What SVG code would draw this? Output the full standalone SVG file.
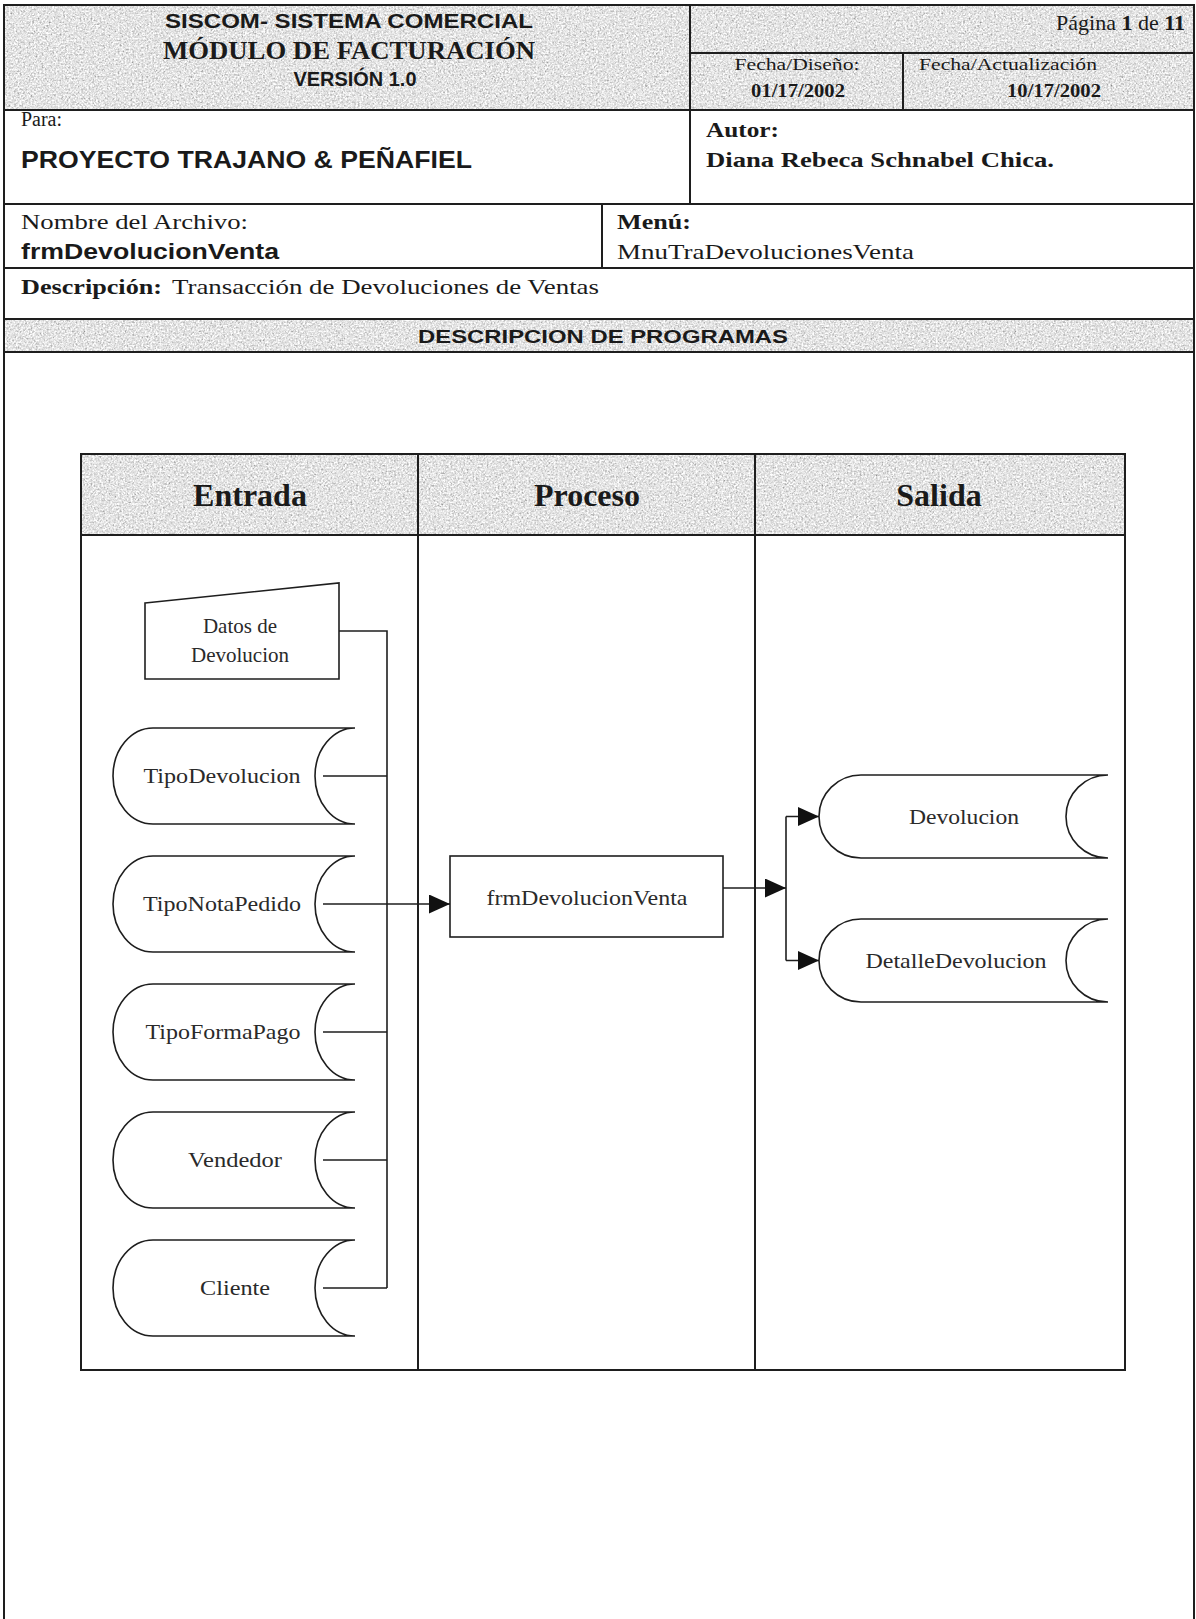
<svg xmlns="http://www.w3.org/2000/svg" width="1196" height="1619" viewBox="0 0 1196 1619">
<style>
.serif{font-family:"Liberation Serif","Times New Roman",serif;fill:#1a1a1a}
.sans{font-family:"Liberation Sans",Arial,sans-serif;fill:#1a1a1a;font-weight:bold}
.b{font-weight:bold}
.frame{stroke:#1e1e1e;stroke-width:2;fill:none}
.shape{stroke:#1e1e1e;stroke-width:1.6;fill:#fff}
.conn{stroke:#1e1e1e;stroke-width:1.6;fill:none}
.lbl{font-family:"Liberation Serif","Times New Roman",serif;fill:#2a2a2a;font-size:21px;text-anchor:middle}
.mid{text-anchor:middle}
</style>
<defs>
<filter id="grain" x="0" y="0" width="1" height="1" filterUnits="objectBoundingBox">
<feTurbulence type="fractalNoise" baseFrequency="0.55" numOctaves="3" seed="7"/>
<feColorMatrix type="matrix" values="0.33 0.33 0.33 0 0 0.33 0.33 0.33 0 0 0.33 0.33 0.33 0 0 0 0 0 0 1"/>
<feComponentTransfer>
<feFuncR type="linear" slope="1.8" intercept="-0.12"/>
<feFuncG type="linear" slope="1.8" intercept="-0.12"/>
<feFuncB type="linear" slope="1.8" intercept="-0.12"/>
</feComponentTransfer>
</filter>
<marker id="arr" markerUnits="userSpaceOnUse" markerWidth="21" markerHeight="19" refX="21" refY="9.5" orient="auto">
<path d="M0,0 L21,9.5 L0,19 Z" fill="#111"/>
</marker>
</defs>
<rect width="1196" height="1619" fill="#fff"/>

<g id="page-header">
<rect x="4" y="5" width="1190" height="105" fill="#ccc" filter="url(#grain)"/>
<rect x="4" y="319" width="1190" height="33" fill="#ccc" filter="url(#grain)"/>
<path class="frame" d="M4,1619 V5 H1194 V1619"/>
<path class="frame" d="M690,5 V204 M690,53 H1194 M903,53 V110 M4,110 H1194 M4,204 H1194 M602,204 V268 M4,268 H1194 M4,319 H1194 M4,352 H1194"/>
<text class="sans mid" x="349" y="28" font-size="21" textLength="368" lengthAdjust="spacingAndGlyphs">SISCOM- SISTEMA COMERCIAL</text>
<text class="serif b mid" x="349" y="59" font-size="25" textLength="372" lengthAdjust="spacingAndGlyphs">MÓDULO DE FACTURACIÓN</text>
<text class="sans mid" x="355" y="86" font-size="20" textLength="123" lengthAdjust="spacingAndGlyphs">VERSIÓN 1.0</text>
<text class="serif" x="1185" y="30" font-size="22" text-anchor="end">Página <tspan class="b">1</tspan> de <tspan class="b">11</tspan></text>
<text class="serif mid" x="797" y="70" font-size="17" textLength="125" lengthAdjust="spacingAndGlyphs">Fecha/Diseño:</text>
<text class="serif b mid" x="798" y="97" font-size="18" textLength="94" lengthAdjust="spacingAndGlyphs">01/17/2002</text>
<text class="serif" x="919" y="70" font-size="17" textLength="178" lengthAdjust="spacingAndGlyphs">Fecha/Actualización</text>
<text class="serif b" x="1007" y="97" font-size="18" textLength="94" lengthAdjust="spacingAndGlyphs">10/17/2002</text>
<text class="serif" x="21" y="126" font-size="20" textLength="41" lengthAdjust="spacingAndGlyphs">Para:</text>
<text class="sans" x="21" y="168" font-size="24" textLength="451" lengthAdjust="spacingAndGlyphs">PROYECTO TRAJANO &amp; PEÑAFIEL</text>
<text class="serif b" x="706" y="137" font-size="21" textLength="73" lengthAdjust="spacingAndGlyphs">Autor:</text>
<text class="serif b" x="706" y="167" font-size="21" textLength="348" lengthAdjust="spacingAndGlyphs">Diana Rebeca Schnabel Chica.</text>
<text class="serif" x="21" y="229" font-size="20" textLength="227" lengthAdjust="spacingAndGlyphs">Nombre del Archivo:</text>
<text class="sans" x="21" y="259" font-size="22" textLength="258" lengthAdjust="spacingAndGlyphs">frmDevolucionVenta</text>
<text class="serif b" x="617" y="229" font-size="21" textLength="74" lengthAdjust="spacingAndGlyphs">Menú:</text>
<text class="serif" x="617" y="259" font-size="21" textLength="297" lengthAdjust="spacingAndGlyphs">MnuTraDevolucionesVenta</text>
<text class="serif b" x="21" y="294" font-size="21" textLength="141" lengthAdjust="spacingAndGlyphs">Descripción:</text>
<text class="serif" x="172" y="294" font-size="21" textLength="427" lengthAdjust="spacingAndGlyphs">Transacción de Devoluciones de Ventas</text>
<text class="sans mid" x="603" y="343" font-size="19" textLength="370" lengthAdjust="spacingAndGlyphs">DESCRIPCION DE PROGRAMAS</text>
</g>

<g id="swimlanes">
<rect x="81" y="454" width="1044" height="81" fill="#ccc" filter="url(#grain)"/>
<rect class="frame" x="81" y="454" width="1044" height="916"/>
<path class="frame" d="M81,535 H1125 M418,454 V1370 M755,454 V1370"/>
<text class="serif b mid" x="250" y="506" font-size="32">Entrada</text>
<text class="serif b mid" x="587" y="506" font-size="32">Proceso</text>
<text class="serif b mid" x="939" y="506" font-size="32">Salida</text>
</g>

<g id="datos-devolucion">
<path class="shape" d="M145,603 L339,583 L339,679 L145,679 Z"/>
<text class="lbl" x="240" y="633">Datos de</text>
<text class="lbl" x="240" y="662">Devolucion</text>
</g>
<g id="tipo-devolucion">
<path class="shape" d="M355,728 L153,728 A40,48 0 0 0 153,824 L355,824 A40,48 0 0 1 355,728 Z"/>
<text class="lbl" x="222" y="783" textLength="157" lengthAdjust="spacingAndGlyphs">TipoDevolucion</text>
</g>
<g id="tipo-nota-pedido">
<path class="shape" d="M355,856 L153,856 A40,48 0 0 0 153,952 L355,952 A40,48 0 0 1 355,856 Z"/>
<text class="lbl" x="222" y="911" textLength="158" lengthAdjust="spacingAndGlyphs">TipoNotaPedido</text>
</g>
<g id="tipo-forma-pago">
<path class="shape" d="M355,984 L153,984 A40,48 0 0 0 153,1080 L355,1080 A40,48 0 0 1 355,984 Z"/>
<text class="lbl" x="223" y="1039" textLength="155" lengthAdjust="spacingAndGlyphs">TipoFormaPago</text>
</g>
<g id="vendedor">
<path class="shape" d="M355,1112 L153,1112 A40,48 0 0 0 153,1208 L355,1208 A40,48 0 0 1 355,1112 Z"/>
<text class="lbl" x="235" y="1167" textLength="94" lengthAdjust="spacingAndGlyphs">Vendedor</text>
</g>
<g id="cliente">
<path class="shape" d="M355,1240 L153,1240 A40,48 0 0 0 153,1336 L355,1336 A40,48 0 0 1 355,1240 Z"/>
<text class="lbl" x="235" y="1295" textLength="70" lengthAdjust="spacingAndGlyphs">Cliente</text>
</g>

<g id="frm-devolucion-venta">
<rect class="shape" x="450" y="856" width="273" height="81"/>
<text class="lbl" x="587" y="905" textLength="201" lengthAdjust="spacingAndGlyphs">frmDevolucionVenta</text>
</g>

<g id="devolucion">
<path class="shape" d="M1108,775 L861,775 A42,41.5 0 0 0 861,858 L1108,858 A42,41.5 0 0 1 1108,775 Z"/>
<text class="lbl" x="964" y="824" textLength="110" lengthAdjust="spacingAndGlyphs">Devolucion</text>
</g>
<g id="detalle-devolucion">
<path class="shape" d="M1108,919 L861,919 A42,41.5 0 0 0 861,1002 L1108,1002 A42,41.5 0 0 1 1108,919 Z"/>
<text class="lbl" x="956" y="968" textLength="181" lengthAdjust="spacingAndGlyphs">DetalleDevolucion</text>
</g>

<g id="connectors">
<path class="conn" d="M339,631 H387 V1288"/>
<path class="conn" d="M323,776 H387 M323,1032 H387 M323,1160 H387 M323,1288 H387"/>
<path class="conn" d="M323,904 H450" marker-end="url(#arr)"/>
<path class="conn" d="M723,888 H786" marker-end="url(#arr)"/>
<path class="conn" d="M786,816.5 V960.5"/>
<path class="conn" d="M786,816.5 H819" marker-end="url(#arr)"/>
<path class="conn" d="M786,960.5 H819" marker-end="url(#arr)"/>
</g>
</svg>
